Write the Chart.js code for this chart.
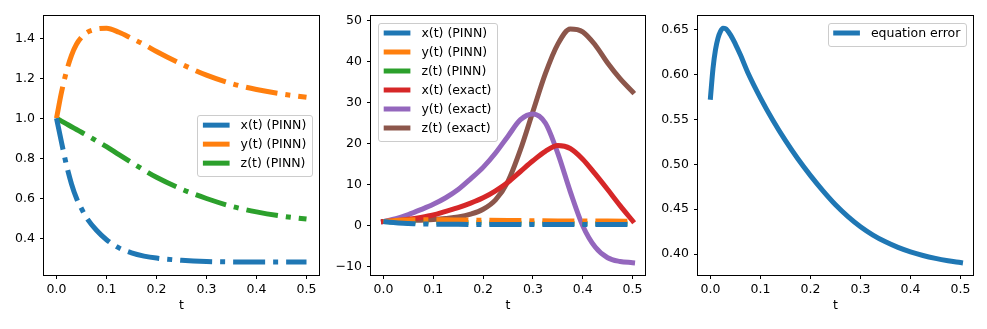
<!DOCTYPE html>
<html>
<head>
<meta charset="utf-8">
<script src="https://cdn.jsdelivr.net/npm/chart.js@4.4.1/dist/chart.umd.min.js"></script>
<style>
  html, body { margin: 0; padding: 0; background: #fff; }
  #wrap { position: relative; width: 987px; height: 329px; }
  canvas { position: absolute; top: 0; }
</style>
</head>
<body>
<div id="wrap">
  <canvas id="c1" width="330" height="329" style="left:0"></canvas>
  <canvas id="c2" width="330" height="329" style="left:330px"></canvas>
  <canvas id="c3" width="327" height="329" style="left:660px"></canvas>
</div>
<script>
// --- data ---
const tTicks = [0, 0.1, 0.2, 0.3, 0.4, 0.5];
const pinnTicks = [0.4, 0.6, 0.8, 1.0, 1.2, 1.4];
const exactTicks = [-10, 0, 10, 20, 30, 40, 50];
const errTicks = [0.40, 0.45, 0.50, 0.55, 0.60, 0.65];

const tPinn = [0, 0.01, 0.02, 0.03, 0.04, 0.05, 0.06, 0.08, 0.1, 0.125, 0.15, 0.175, 0.2, 0.25, 0.3, 0.35, 0.4, 0.45, 0.5];
const xPinn = [1.0, 0.88, 0.765, 0.672, 0.6, 0.548, 0.503, 0.44, 0.393, 0.352, 0.327, 0.311, 0.301, 0.29, 0.284, 0.282, 0.281, 0.281, 0.281];
const yPinn = [1.0, 1.13, 1.235, 1.315, 1.37, 1.405, 1.428, 1.446, 1.45, 1.43, 1.40, 1.369, 1.334, 1.271, 1.216, 1.174, 1.144, 1.122, 1.105];
const zPinn = [1.0, 0.986, 0.972, 0.958, 0.944, 0.93, 0.916, 0.887, 0.858, 0.818, 0.779, 0.741, 0.705, 0.646, 0.599, 0.56, 0.532, 0.511, 0.496];

const tExact = [0, 0.025, 0.05, 0.075, 0.1, 0.125, 0.15, 0.175, 0.2, 0.225, 0.25, 0.275, 0.3, 0.325, 0.35, 0.375, 0.4, 0.425, 0.45, 0.475, 0.5];
const xExact = [1.0, 1.25, 1.55, 2.0, 2.6, 3.5, 4.4, 5.5, 6.8, 8.5, 10.6, 13.2, 15.8, 18.1, 19.5, 18.8, 16.2, 12.6, 8.8, 4.9, 1.2];
const yExact = [1.0, 1.7, 2.7, 3.9, 5.2, 6.8, 8.8, 11.4, 14.2, 17.7, 21.8, 25.8, 27.2, 25.0, 17.6, 8.3, 0.0, -5.2, -7.8, -8.7, -9.0];
const zExact = [1.0, 1.1, 1.2, 1.35, 1.5, 1.75, 2.1, 2.8, 4.0, 6.3, 10.8, 18.5, 27.8, 37.0, 44.2, 47.9, 47.2, 44.0, 39.6, 35.8, 32.6];

const tErr = [0, 0.005, 0.01, 0.015, 0.02, 0.025, 0.03, 0.04, 0.05, 0.06, 0.075, 0.1, 0.125, 0.15, 0.175, 0.2, 0.225, 0.25, 0.275, 0.3, 0.325, 0.35, 0.375, 0.4, 0.425, 0.45, 0.475, 0.5];
const eqErr = [0.575, 0.607, 0.628, 0.641, 0.6485, 0.652, 0.6515, 0.6445, 0.634, 0.622, 0.602, 0.574, 0.549, 0.5265, 0.506, 0.4875, 0.4705, 0.455, 0.4418, 0.4305, 0.4212, 0.4136, 0.4074, 0.4024, 0.3984, 0.3952, 0.3926, 0.3905];

const BLUE = '#1f77b4', ORANGE = '#ff7f0e', GREEN = '#2ca02c', RED = '#d62728', PURPLE = '#9467bd', BROWN = '#8c564b';
const DASHDOT = [32, 8, 5, 8];

Chart.defaults.font.family = '"DejaVu Sans", sans-serif';
Chart.defaults.font.size = 12.5;
Chart.defaults.color = '#000';

const pts = (ts, vs) => ts.map((t, i) => ({ x: t, y: vs[i] }));

function line(label, ts, vs, color, dashed) {
  return {
    label,
    data: pts(ts, vs),
    borderColor: color,
    backgroundColor: color,
    borderWidth: 5,
    borderDash: dashed ? DASHDOT : [],
    borderCapStyle: dashed ? 'butt' : 'square',
    borderJoinStyle: 'round',
    pointRadius: 0,
    fill: false,
    cubicInterpolationMode: 'monotone',
  };
}

// axes box (all four spines)
const frame = {
  id: 'frame',
  afterDatasetsDraw(chart) {
    const { ctx, chartArea: a } = chart;
    ctx.save();
    ctx.strokeStyle = '#000';
    ctx.lineWidth = 1;
    ctx.strokeRect(Math.round(a.left) - 0.5, Math.round(a.top) - 0.5,
      Math.round(a.right - a.left) + 1, Math.round(a.bottom - a.top) + 1);
    ctx.restore();
  }
};

// matplotlib-like legend drawn inside the axes
const boxLegend = {
  id: 'boxLegend',
  afterDraw(chart, args, opts) {
    const { ctx, chartArea: a } = chart;
    const items = chart.data.datasets;
    ctx.save();
    ctx.font = '12.5px "DejaVu Sans"';
    const textW = Math.max(...items.map(d => ctx.measureText(d.label).width));
    const w = 5.7 + 26.7 + 11 + textW + 5.7;
    const h = 10 + 19 * (items.length - 1) + 12.7;
    let x, y;
    if (opts.loc === 'center right') { x = a.right - 7 - w; y = (a.top + a.bottom) / 2 - h / 2; }
    else if (opts.loc === 'upper left') { x = a.left + 7; y = a.top + 7; }
    else { x = a.right - 7 - w; y = a.top + 7; }
    ctx.beginPath();
    ctx.roundRect(Math.round(x) + 0.5, Math.round(y) + 0.5, Math.round(w), Math.round(h), 2.5);
    ctx.fillStyle = 'rgba(255,255,255,0.8)';
    ctx.fill();
    ctx.strokeStyle = '#cccccc';
    ctx.lineWidth = 1;
    ctx.stroke();
    items.forEach((d, i) => {
      const cy = y + 10 + 19 * i;
      ctx.strokeStyle = d.borderColor;
      ctx.lineWidth = d.borderWidth;
      ctx.lineCap = 'butt';
      ctx.setLineDash(d.borderDash || []);
      ctx.beginPath();
      ctx.moveTo(x + 5.7, cy);
      ctx.lineTo(x + 32.4, cy);
      ctx.stroke();
      ctx.setLineDash([]);
      ctx.fillStyle = '#000';
      ctx.textBaseline = 'middle';
      ctx.textAlign = 'left';
      ctx.fillText(d.label, x + 43.4, cy + 0.5);
    });
    ctx.restore();
  }
};

function makeChart(id, datasets, cfg) {
  const canvas = document.getElementById(id);
  return new Chart(canvas, {
    type: 'line',
    data: { datasets },
    plugins: [frame, boxLegend],
    options: {
      responsive: false,
      animation: false,
      events: [],
      devicePixelRatio: 1,
      layout: { padding: { left: 0, top: 16, right: canvas.width - cfg.right, bottom: 0 } },
      plugins: {
        legend: { display: false },
        tooltip: { enabled: false },
        boxLegend: { loc: cfg.legend },
      },
      scales: {
        x: {
          type: 'linear',
          min: -0.025,
          max: 0.525,
          afterBuildTicks: s => { s.ticks = tTicks.map(v => ({ value: v })); },
          afterFit: s => { s.height = 329 - 275; },
          ticks: { autoSkip: false, maxRotation: 0, padding: 3, callback: v => v.toFixed(1) },
          grid: { display: true, drawOnChartArea: false, drawTicks: true, tickLength: 4, color: '#000', lineWidth: 1 },
          border: { display: false },
          title: { display: true, text: 't', padding: { top: 0, bottom: 15.5 } },
        },
        y: {
          type: 'linear',
          min: cfg.ymin,
          max: cfg.ymax,
          afterBuildTicks: s => { s.ticks = cfg.yTicks.map(v => ({ value: v })); },
          afterFit: s => { s.width = cfg.left; },
          ticks: { autoSkip: false, padding: 5, callback: cfg.fmt },
          grid: { display: true, drawOnChartArea: false, drawTicks: true, tickLength: 4, color: '#000', lineWidth: 1 },
          border: { display: false },
        },
      },
    },
  });
}

makeChart('c1', [
  line('x(t) (PINN)', tPinn, xPinn, BLUE, true),
  line('y(t) (PINN)', tPinn, yPinn, ORANGE, true),
  line('z(t) (PINN)', tPinn, zPinn, GREEN, true),
], { left: 44, right: 319, ymin: 0.2165, ymax: 1.5115, yTicks: pinnTicks, fmt: v => v.toFixed(1), legend: 'center right' });

makeChart('c2', [
  line('x(t) (PINN)', tPinn, xPinn, BLUE, true),
  line('y(t) (PINN)', tPinn, yPinn, ORANGE, true),
  line('z(t) (PINN)', tPinn, zPinn, GREEN, true),
  line('x(t) (exact)', tExact, xExact, RED, false),
  line('y(t) (exact)', tExact, yExact, PURPLE, false),
  line('z(t) (exact)', tExact, zExact, BROWN, false),
], { left: 41, right: 315, ymin: -12.0, ymax: 51.05, yTicks: exactTicks,
     fmt: v => (v < 0 ? '\u2212' + Math.abs(v) : String(v)), legend: 'upper left' });

makeChart('c3', [
  line('equation error', tErr, eqErr, BLUE, false),
], { left: 38, right: 313, ymin: 0.3766, ymax: 0.6656, yTicks: errTicks, fmt: v => v.toFixed(2), legend: 'upper right' });
</script>
</body>
</html>
